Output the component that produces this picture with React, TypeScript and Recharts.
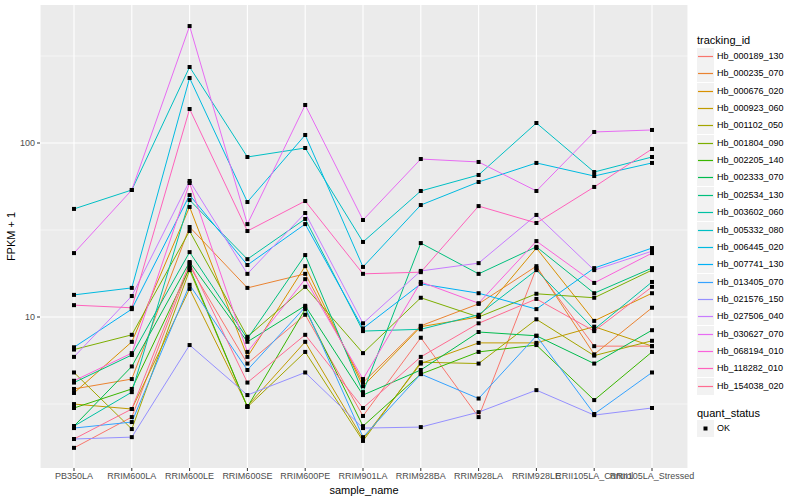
import React from 'react';
import { LineChart, Line, XAxis, YAxis, CartesianGrid, ReferenceLine } from 'recharts';

const samples = [
  'PB350LA', 'RRIM600LA', 'RRIM600LE', 'RRIM600SE', 'RRIM600PE', 'RRIM901LA',
  'RRIM928BA', 'RRIM928LA', 'RRIM928LE', 'RRII105LA_Control', 'RRII105LA_Stressed',
];

const trackingIds = [
  'Hb_000189_130', 'Hb_000235_070', 'Hb_000676_020', 'Hb_000923_060', 'Hb_001102_050',
  'Hb_001804_090', 'Hb_002205_140', 'Hb_002333_070', 'Hb_002534_130', 'Hb_003602_060',
  'Hb_005332_080', 'Hb_006445_020', 'Hb_007741_130', 'Hb_013405_070', 'Hb_021576_150',
  'Hb_027506_040', 'Hb_030627_070', 'Hb_068194_010', 'Hb_118282_010', 'Hb_154038_020',
];

// FPKM + 1, one value per sample
const hb000189 = [1.77, 2.66, 19.6, 5.4, 10.3, 2.7, 7.6, 2.66, 19.1, 6.8, 6.8];
const hb000235 = [3.86, 4.4, 32.9, 14.7, 17.7, 4.2, 8.9, 11.9, 19.6, 6.1, 11.3];
const hb000676 = [3.66, 7.2, 42.9, 5.9, 19.6, 4.0, 8.8, 10.0, 24.9, 9.5, 13.7];
const hb000923 = [3.16, 2.96, 14.5, 3.08, 7.2, 1.99, 5.4, 7.1, 7.1, 8.8, 6.8];
const hb001102 = [4.8, 2.27, 18.6, 3.04, 6.3, 1.94, 5.5, 5.4, 9.7, 6.0, 7.3];
const hb001804 = [6.5, 7.9, 31.2, 7.7, 14.9, 6.2, 12.9, 10.0, 13.6, 12.9, 18.6];
const hb002205 = [3.0, 3.86, 19.1, 3.04, 11.1, 2.36, 4.7, 6.3, 6.9, 3.33, 6.3];
const hb002333 = [2.36, 5.2, 20.7, 7.2, 11.6, 3.56, 4.96, 8.2, 7.8, 5.4, 8.4];
const hb002534 = [4.2, 6.05, 23.6, 7.5, 22.7, 3.7, 26.6, 17.7, 25.3, 13.7, 19.1];
const hb003602 = [2.36, 3.7, 47.0, 21.5, 36.6, 8.3, 8.5, 10.3, 18.6, 8.5, 15.9];
const hb005332 = [41.8, 53.7, 273.4, 83.1, 93.6, 27.0, 53.0, 65.5, 130.3, 68.1, 83.1];
const hb006445 = [13.4, 14.7, 236.4, 45.8, 111.2, 19.4, 44.0, 59.7, 76.8, 64.6, 76.8];
const hb007741 = [6.7, 11.1, 50.2, 19.9, 34.2, 8.6, 15.5, 13.7, 11.1, 19.1, 24.9];
const hb013405 = [2.3, 2.49, 15.3, 4.96, 11.4, 2.04, 4.7, 3.4, 7.8, 2.77, 4.8];
const hb021576 = [1.99, 2.04, 6.9, 3.56, 4.8, 2.3, 2.33, 2.84, 3.8, 2.73, 3.0];
const hb027506 = [5.9, 13.2, 60.5, 17.7, 39.6, 9.2, 18.4, 20.4, 38.6, 18.6, 23.9];
const hb030627 = [23.3, 53.7, 470, 34.2, 165.4, 36.1, 80.9, 77.8, 53.0, 115.7, 118.8];
const hb068194 = [4.3, 6.2, 58.9, 6.3, 16.5, 4.4, 15.9, 12.0, 27.3, 15.7, 23.3];
const hb118282 = [11.7, 11.3, 156.8, 31.2, 46.4, 17.7, 18.1, 43.4, 34.7, 55.9, 92.4];
const hb154038 = [1.99, 2.96, 20.4, 4.2, 7.9, 3.0, 5.9, 9.2, 12.7, 8.3, 14.9];

const seriesValues = [
  hb000189, hb000235, hb000676, hb000923, hb001102, hb001804, hb002205, hb002333,
  hb002534, hb003602, hb005332, hb006445, hb007741, hb013405, hb021576, hb027506,
  hb030627, hb068194, hb118282, hb154038,
];

const majorTicks = [10, 100];
const minorBreaks = [3.1623, 31.623, 316.23];

// ggplot2 hue palette, 20 levels
const palette = [
  '#F8766D', '#EA8331', '#D89000', '#C09B00', '#A3A500', '#7CAE00', '#39B600', '#00BB4E',
  '#00BF7D', '#00C1A3', '#00BFC4', '#00BAE0', '#00B0F6', '#35A2FF', '#9590FF', '#C77CFF',
  '#E76BF3', '#FA62DB', '#FF62BC', '#FF6C91',
];

const data = samples.map((s, i) => {
  const row: Record<string, string | number> = { sample_name: s };
  trackingIds.forEach((id, j) => {
    row[id] = seriesValues[j][i];
  });
  return row;
});

const font = '"Liberation Sans", Arial, sans-serif';

const SquareDot = (props: any) => {
  const { cx, cy, index, dataKey } = props;
  if (cx == null || cy == null) return <g key={`${dataKey}-${index}`} />;
  return <rect key={`${dataKey}-${index}`} x={cx - 2} y={cy - 2} width={4} height={4} fill="#000" />;
};

const Legend = () => {
  const rowTop = 48;
  const step = 17.35;
  return (
    <div style={{ position: 'absolute', left: 0, top: 0, fontFamily: font, color: '#000' }}>
      <div style={{ position: 'absolute', left: 697, top: 33, fontSize: 11, lineHeight: '14px', whiteSpace: 'nowrap' }}>
        tracking_id
      </div>
      {trackingIds.map((id, i) => (
        <div key={id} style={{ position: 'absolute', left: 697, top: Math.round(rowTop + i * step), height: 17, whiteSpace: 'nowrap' }}>
          <svg width={17} height={17} style={{ position: 'absolute', left: 0, top: 0 }}>
            <rect x={0} y={0} width={17} height={17} fill="#F2F2F2" />
            <line x1={1} y1={8.5} x2={16} y2={8.5} stroke={palette[i]} strokeWidth={1.2} />
          </svg>
          <span style={{ position: 'absolute', left: 20, top: 0, fontSize: 9, lineHeight: '17px' }}>{id}</span>
        </div>
      ))}
      <div style={{ position: 'absolute', left: 697, top: 406, fontSize: 11, lineHeight: '14px', whiteSpace: 'nowrap' }}>
        quant_status
      </div>
      <div style={{ position: 'absolute', left: 697, top: 420, height: 17, whiteSpace: 'nowrap' }}>
        <svg width={17} height={17} style={{ position: 'absolute', left: 0, top: 0 }}>
          <rect x={0} y={0} width={17} height={17} fill="#F2F2F2" />
          <rect x={6.5} y={6.5} width={4} height={4} fill="#000" />
        </svg>
        <span style={{ position: 'absolute', left: 20, top: 0, fontSize: 9, lineHeight: '17px' }}>OK</span>
      </div>
    </div>
  );
};

export default function App() {
  return (
    <div style={{ position: 'relative', width: 800, height: 500, background: '#fff' }}>
      <style>{'body { margin: 0; }'}</style>
      <LineChart
        width={800}
        height={500}
        data={data}
        margin={{ top: 5, right: 112, bottom: 0, left: 5 }}
      >
        <CartesianGrid horizontal={false} stroke="#FFFFFF" strokeWidth={1.1} fill="#EBEBEB" />
        {minorBreaks.map((v) => (
          <ReferenceLine key={`minor-${v}`} y={v} stroke="#FFFFFF" strokeWidth={0.55} />
        ))}
        {majorTicks.map((v) => (
          <ReferenceLine key={`major-${v}`} y={v} stroke="#FFFFFF" strokeWidth={1.1} />
        ))}
        <XAxis
          dataKey="sample_name"
          type="category"
          scale="point"
          padding={{ left: 34, right: 36 }}
          interval={0}
          height={32}
          axisLine={false}
          tickSize={3}
          tickLine={{ stroke: '#333333' }}
          tick={{ fill: '#4D4D4D', fontSize: 9, fontFamily: font }}
          label={{ value: 'sample_name', position: 'insideBottom', offset: 6, fill: '#000', fontSize: 11, fontFamily: font }}
        />
        <YAxis
          type="number"
          scale="log"
          domain={[1.356, 621]}
          allowDataOverflow
          ticks={majorTicks}
          width={35}
          axisLine={false}
          tickSize={3}
          tickLine={{ stroke: '#333333' }}
          tick={{ fill: '#4D4D4D', fontSize: 9, fontFamily: font }}
          label={{ value: 'FPKM + 1', angle: -90, position: 'insideLeft', offset: 6, fill: '#000', fontSize: 11, fontFamily: font, style: { textAnchor: 'middle' } }}
        />
        {trackingIds.map((id, i) => (
          <Line
            key={`line-${id}`}
            type="linear"
            dataKey={id}
            stroke={palette[i]}
            strokeWidth={1}
            dot={false}
            activeDot={false}
            isAnimationActive={false}
          />
        ))}
        {trackingIds.map((id) => (
          <Line
            key={`pts-${id}`}
            type="linear"
            dataKey={id}
            stroke="none"
            strokeWidth={0}
            dot={SquareDot}
            activeDot={false}
            legendType="none"
            isAnimationActive={false}
          />
        ))}
      </LineChart>
      <Legend />
    </div>
  );
}
